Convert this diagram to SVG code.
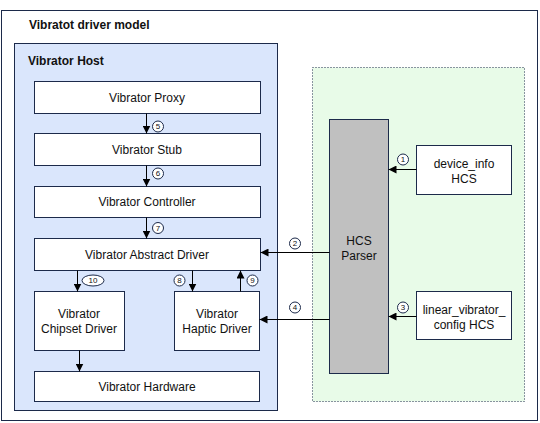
<svg xmlns="http://www.w3.org/2000/svg" width="540" height="423" viewBox="0 0 540 423">
<style>
.box{fill:#fff;stroke:#1c2a4a;stroke-width:1}
.t{font-family:"Liberation Sans",Arial,sans-serif;font-size:12px;fill:#111;text-anchor:middle}
.b{font-family:"Liberation Sans",Arial,sans-serif;font-size:12px;font-weight:bold;fill:#111}
.c{fill:#fff;stroke:#1c2a4a;stroke-width:1}
.n{font-family:"Liberation Sans",Arial,sans-serif;font-size:8px;fill:#111;text-anchor:middle}
.l{stroke:#000;stroke-width:1;fill:none;marker-end:url(#ah)}
</style>
<defs>
<marker id="ah" markerWidth="8" markerHeight="8" refX="8" refY="4" orient="auto" markerUnits="userSpaceOnUse">
<path d="M0,0 L8,4 L0,8 Z" fill="#000"/>
</marker>
</defs>
<rect x="0" y="0" width="540" height="423" fill="#fff"/>
<g id="model">
<rect x="1.5" y="10.5" width="536" height="410" fill="#fff" stroke="#1c2a4a"/>
<text class="b" x="29" y="29">Vibratot driver model</text>
</g>
<g id="host">
<rect x="14.5" y="43.5" width="263" height="367" fill="#dae6fc" stroke="#1c2a4a"/>
<text class="b" x="28" y="65">Vibrator Host</text>
</g>
<g id="hcs-area">
<rect x="312.5" y="67.5" width="212" height="334" fill="#e8fbe8" stroke="#1c2a4a" stroke-dasharray="1,2"/>
</g>
<g id="proxy"><rect class="box" x="34.5" y="81.5" width="226" height="32"/><text class="t" x="147" y="102">Vibrator Proxy</text></g>
<g id="stub"><rect class="box" x="34.5" y="133.5" width="226" height="32"/><text class="t" x="147" y="154">Vibrator Stub</text></g>
<g id="controller"><rect class="box" x="34.5" y="186.5" width="226" height="31"/><text class="t" x="147" y="206">Vibrator Controller</text></g>
<g id="abstract"><rect class="box" x="34.5" y="238.5" width="226" height="32"/><text class="t" x="147" y="259">Vibrator Abstract Driver</text></g>
<g id="chipset"><rect class="box" x="34.5" y="291.5" width="90" height="59"/><text class="t" x="79" y="318">Vibrator</text><text class="t" x="79" y="333">Chipset Driver</text></g>
<g id="haptic"><rect class="box" x="174.5" y="291.5" width="85" height="59"/><text class="t" x="217" y="318">Vibrator</text><text class="t" x="217" y="333">Haptic Driver</text></g>
<g id="hardware"><rect class="box" x="34.5" y="371.5" width="225" height="30"/><text class="t" x="147" y="391">Vibrator Hardware</text></g>
<g id="parser"><rect x="329.5" y="119.5" width="59" height="254" fill="#c0c0c0" stroke="#1c2a4a"/><text class="t" x="359" y="245">HCS</text><text class="t" x="359" y="260">Parser</text></g>
<g id="device-info"><rect class="box" x="416.5" y="145.5" width="95" height="49"/><text class="t" x="464" y="168">device_info</text><text class="t" x="464" y="183">HCS</text></g>
<g id="linear-config"><rect class="box" x="416.5" y="291.5" width="95" height="48"/><text class="t" x="464" y="314">linear_vibrator_</text><text class="t" x="464" y="329">config HCS</text></g>
<g id="connectors">
<line class="l" x1="146.5" y1="113.5" x2="146.5" y2="133.5"/>
<line class="l" x1="146.5" y1="165.5" x2="146.5" y2="186.5"/>
<line class="l" x1="146.5" y1="217.5" x2="146.5" y2="238.5"/>
<line class="l" x1="77.5" y1="270.5" x2="77.5" y2="291.5"/>
<line class="l" x1="192.5" y1="270.5" x2="192.5" y2="291.5"/>
<line class="l" x1="240.5" y1="291.5" x2="240.5" y2="270.5"/>
<line class="l" x1="79.5" y1="350.5" x2="79.5" y2="371.5"/>
<line class="l" x1="329.5" y1="252.5" x2="260.5" y2="252.5"/>
<line class="l" x1="329.5" y1="319.5" x2="259.5" y2="319.5"/>
<line class="l" x1="416.5" y1="169.5" x2="388.5" y2="169.5"/>
<line class="l" x1="416.5" y1="316.5" x2="388.5" y2="316.5"/>
<circle class="c" cx="158" cy="126.5" r="5.5"/><text class="n" x="158" y="129.3">5</text>
<circle class="c" cx="158" cy="173.5" r="5.5"/><text class="n" x="158" y="176.3">6</text>
<circle class="c" cx="158" cy="228" r="5.5"/><text class="n" x="158" y="230.8">7</text>
<ellipse class="c" cx="93" cy="280.5" rx="11" ry="5.5"/><text class="n" x="93" y="283.3">10</text>
<circle class="c" cx="179.5" cy="280.5" r="5.5"/><text class="n" x="179.5" y="283.3">8</text>
<circle class="c" cx="252.5" cy="280.5" r="5.5"/><text class="n" x="252.5" y="283.3">9</text>
<circle class="c" cx="295" cy="243.5" r="5.5"/><text class="n" x="295" y="246.3">2</text>
<circle class="c" cx="295" cy="307.5" r="5.5"/><text class="n" x="295" y="310.3">4</text>
<circle class="c" cx="403" cy="159.5" r="5.5"/><text class="n" x="403" y="162.3">1</text>
<circle class="c" cx="403" cy="307.5" r="5.5"/><text class="n" x="403" y="310.3">3</text>
</g>
</svg>
